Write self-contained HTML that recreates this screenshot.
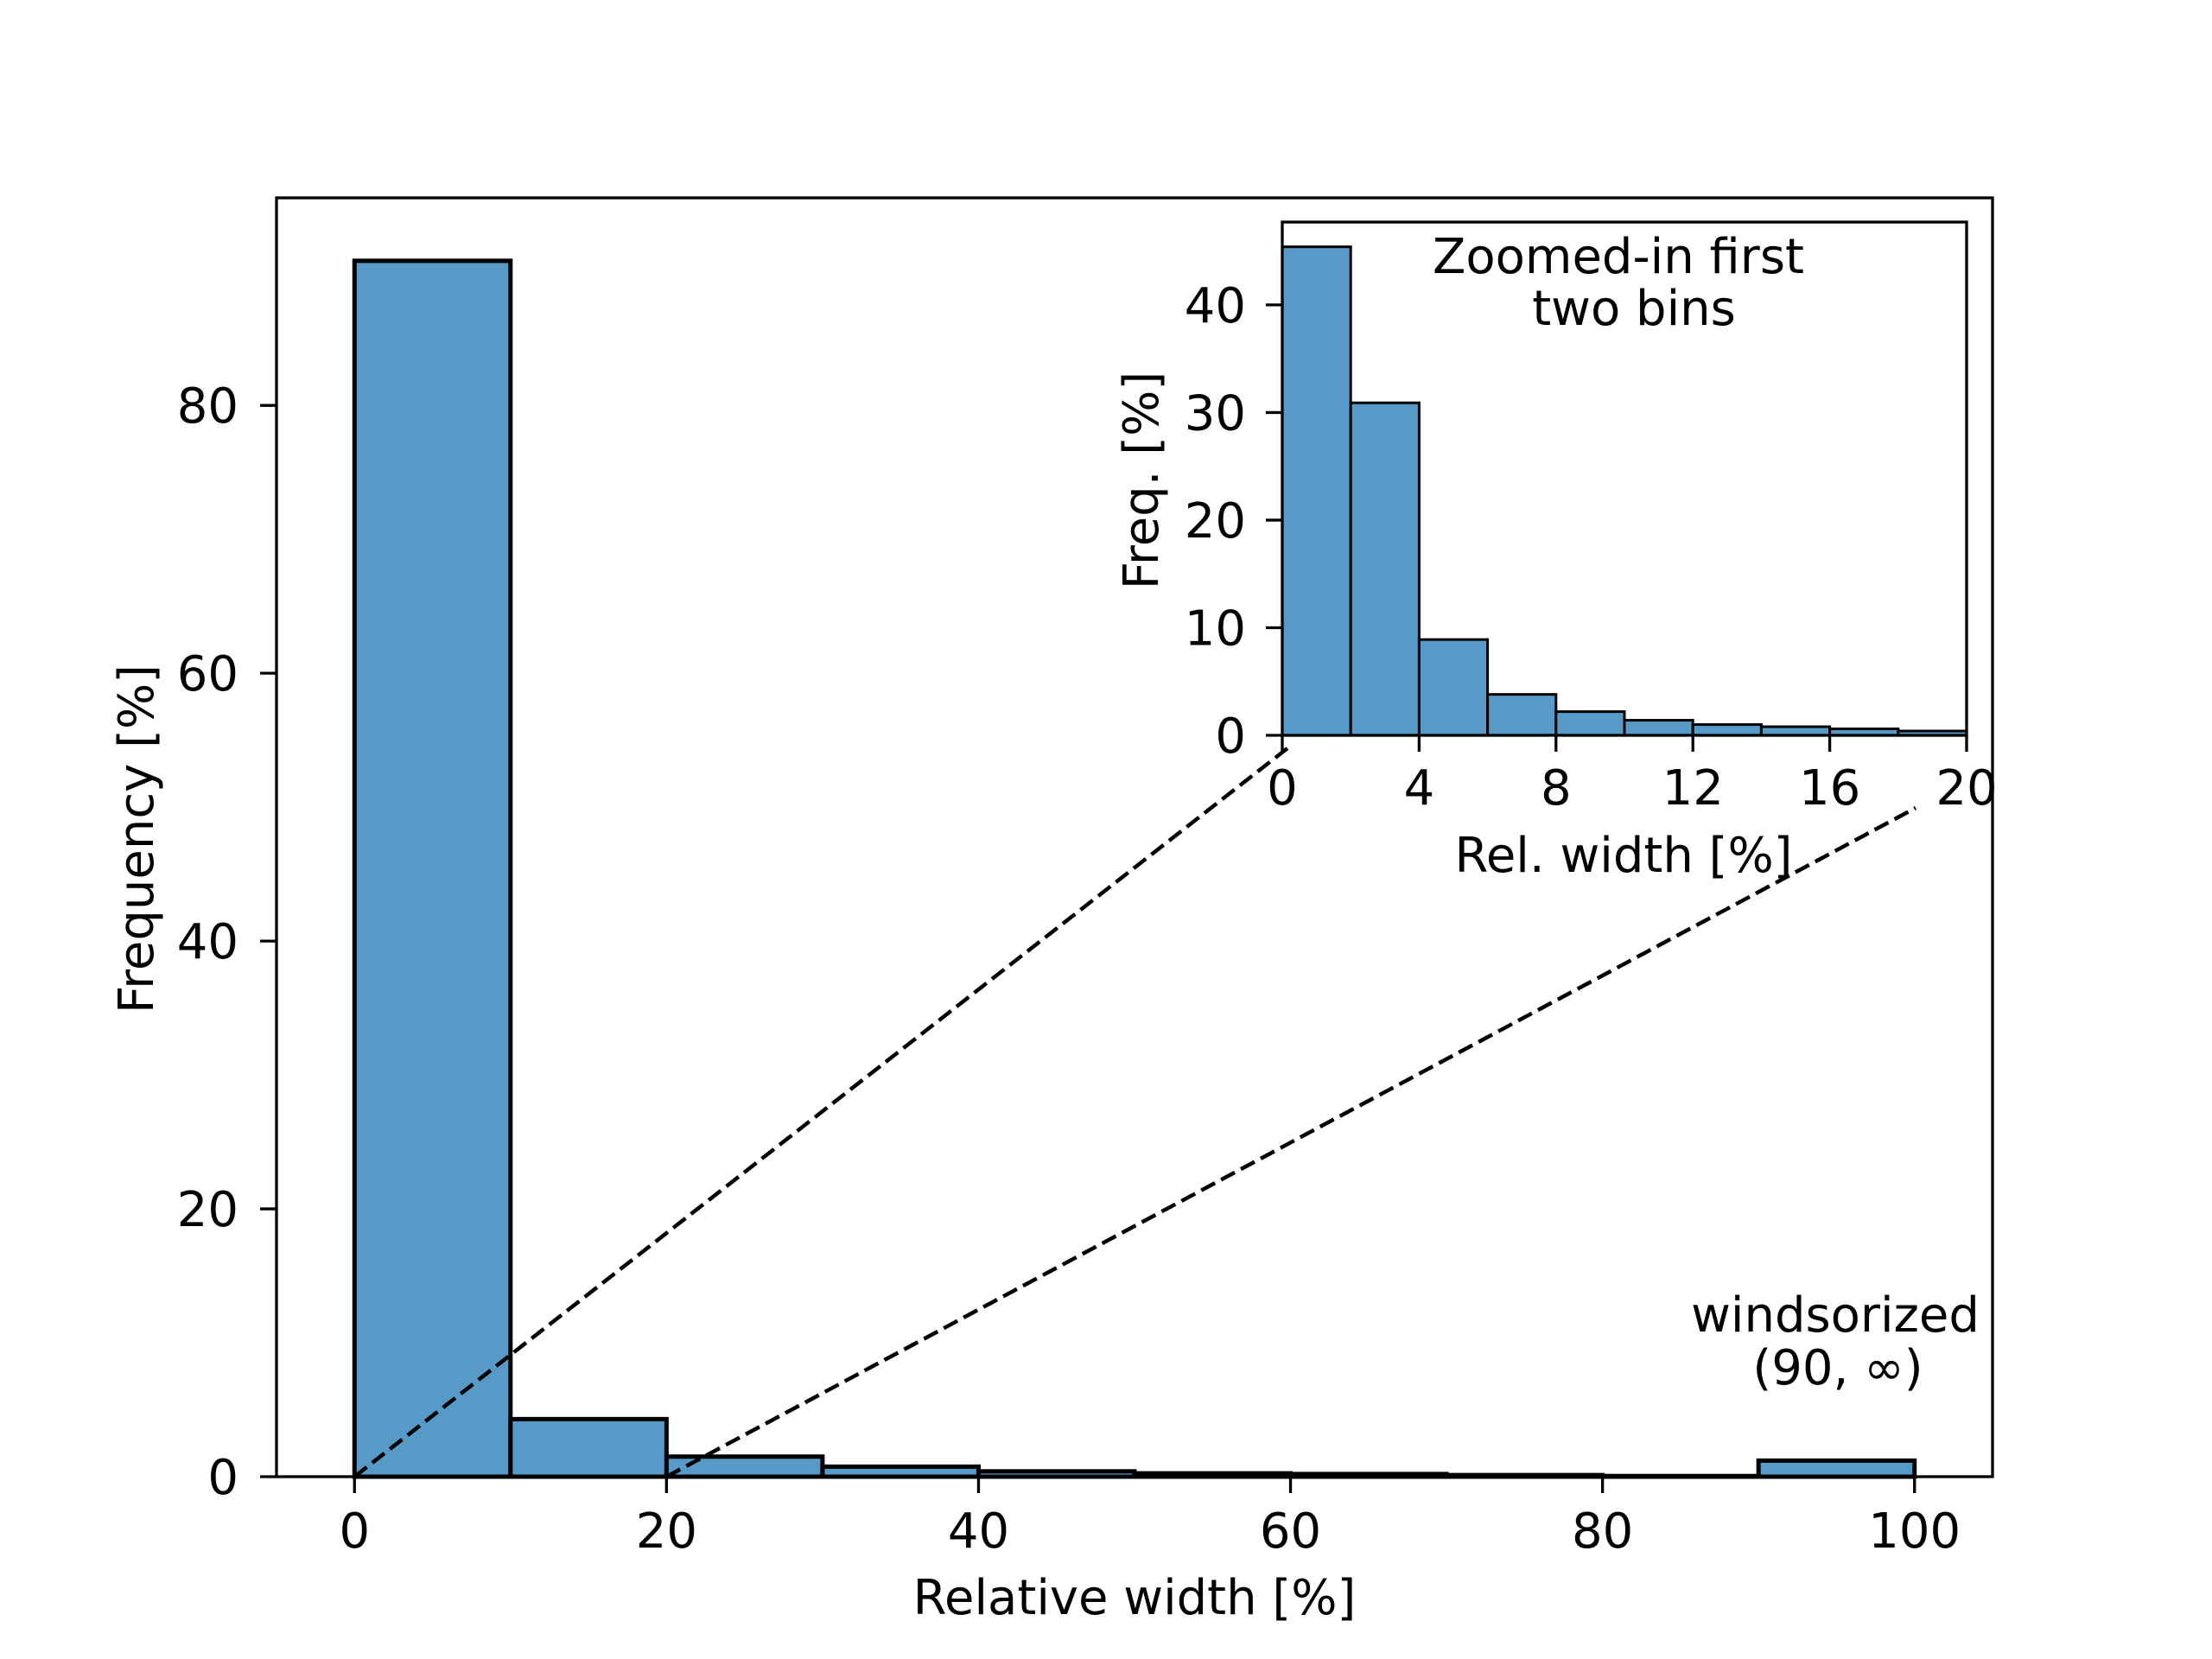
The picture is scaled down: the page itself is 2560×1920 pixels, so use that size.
<!DOCTYPE html>
<html><head><meta charset="utf-8"><style>
html,body{margin:0;padding:0;background:#fff}
svg{display:block;font-family:"DejaVu Sans","Liberation Sans",sans-serif}
</style></head><body>
<svg id="chart" width="2560" height="1920" viewBox="0 0 2560 1920" xmlns="http://www.w3.org/2000/svg">
<g id="main"></g>
<g id="inset"></g>
</svg>
<script>
const mainBins = [0,10,20,30,40,50,60,70,80,90];
const mainValues = [90.8,4.3,1.5,0.75,0.4,0.25,0.2,0.12,0.05,1.2];
const mainXTicks = [0,20,40,60,80,100];
const mainYTicks = [0,20,40,60,80];
const insetBins = [0,2,4,6,8,10,12,14,16,18];
const insetValues = [45.4,30.9,8.9,3.8,2.2,1.4,1.0,0.8,0.6,0.4];
const insetXTicks = [0,4,8,12,16,20];
const insetYTicks = [0,10,20,30,40];

const FS=56;
const NS="http://www.w3.org/2000/svg";
function mk(parent,tag,attrs,text){const e=document.createElementNS(NS,tag);for(const k in attrs)e.setAttribute(k,attrs[k]);if(text!==undefined)e.textContent=text;parent.appendChild(e);return e;}

const M={l:320,r:2306,t:229,b:1709,x0:-5,x1:105,y0:0,y1:95.5};
const mx=v=>M.l+(v-M.x0)/(M.x1-M.x0)*(M.r-M.l);
const my=v=>M.b-(v-M.y0)/(M.y1-M.y0)*(M.b-M.t);
const I={l:1484,r:2276,t:257,b:851,x0:0,x1:20,y0:0,y1:47.7};
const ix=v=>I.l+(v-I.x0)/(I.x1-I.x0)*(I.r-I.l);
const iy=v=>I.b-(v-I.y0)/(I.y1-I.y0)*(I.b-I.t);

const g=document.getElementById('main');
mainBins.forEach((b,i)=>{
  const r=mk(g,'rect',{x:mx(b),y:my(mainValues[i]),width:mx(b+10)-mx(b),height:my(0)-my(mainValues[i]),fill:'#579ac7',stroke:'#000','stroke-width':5});
  
  
});
const d1=mk(g,'line',{x1:mx(0),y1:my(0),x2:1490,y2:866,stroke:'#000','stroke-width':4.5,'stroke-dasharray':'18,8'});


const d2=mk(g,'line',{x1:mx(20),y1:my(0),x2:2217,y2:935,stroke:'#000','stroke-width':4.5,'stroke-dasharray':'18,8'});


const fr=mk(g,'rect',{x:M.l,y:M.t,width:M.r-M.l,height:M.b-M.t,fill:'none',stroke:'#000','stroke-width':3.3});


mainXTicks.forEach(v=>{
  mk(g,'line',{x1:mx(v),y1:M.b,x2:mx(v),y2:M.b+19,stroke:'#000','stroke-width':3.3});
  const t=mk(g,'text',{x:mx(v),y:M.b+82,'font-size':FS,'text-anchor':'middle'},String(v));
  
  
});
mainYTicks.forEach(v=>{
  mk(g,'line',{x1:M.l,y1:my(v),x2:M.l-19,y2:my(v),stroke:'#000','stroke-width':3.3});
  const t=mk(g,'text',{x:M.l-44,y:my(v)+20,'font-size':FS,'text-anchor':'end'},String(v));
  
  
});
const xt=mk(g,'text',{x:(M.l+M.r)/2,y:1868,'font-size':FS,'text-anchor':'middle'},'Relative width [%]');


const yt=mk(g,'text',{x:0,y:0,'font-size':FS,'text-anchor':'middle',transform:'translate(177,971) rotate(-90)'},'Frequency [%]');


const w1=mk(g,'text',{x:2124,y:1541,'font-size':FS,'text-anchor':'middle'},'windsorized');


const w2=mk(g,'text',{x:2127,y:1602,'font-size':FS,'text-anchor':'middle'},'(90, ∞)');



const h=document.getElementById('inset');
mk(h,'rect',{x:I.l,y:I.t,width:I.r-I.l,height:I.b-I.t,fill:'#fff'});
insetBins.forEach((b,i)=>{
  const r=mk(h,'rect',{x:ix(b),y:iy(insetValues[i]),width:ix(b+2)-ix(b),height:iy(0)-iy(insetValues[i]),fill:'#579ac7',stroke:'#000','stroke-width':3});
  
  
});
const ifr=mk(h,'rect',{x:I.l,y:I.t,width:I.r-I.l,height:I.b-I.t,fill:'none',stroke:'#000','stroke-width':3.3});


insetXTicks.forEach(v=>{
  mk(h,'line',{x1:ix(v),y1:I.b,x2:ix(v),y2:I.b+19,stroke:'#000','stroke-width':3.3});
  const t=mk(h,'text',{x:ix(v),y:I.b+80,'font-size':FS,'text-anchor':'middle'},String(v));
  
  
});
insetYTicks.forEach(v=>{
  mk(h,'line',{x1:I.l,y1:iy(v),x2:I.l-19,y2:iy(v),stroke:'#000','stroke-width':3.3});
  const t=mk(h,'text',{x:I.l-42,y:iy(v)+20,'font-size':FS,'text-anchor':'end'},String(v));
  
  
});
const ixt=mk(h,'text',{x:1879,y:1009,'font-size':FS,'text-anchor':'middle'},'Rel. width [%]');


const iyt=mk(h,'text',{x:0,y:0,'font-size':FS,'text-anchor':'middle',transform:'translate(1340,556) rotate(-90)'},'Freq. [%]');


const it1=mk(h,'text',{x:1873,y:316,'font-size':FS,'text-anchor':'middle'},'Zoomed-in first');


const it2=mk(h,'text',{x:1891,y:376,'font-size':FS,'text-anchor':'middle'},'two bins');


</script>
</body></html>
